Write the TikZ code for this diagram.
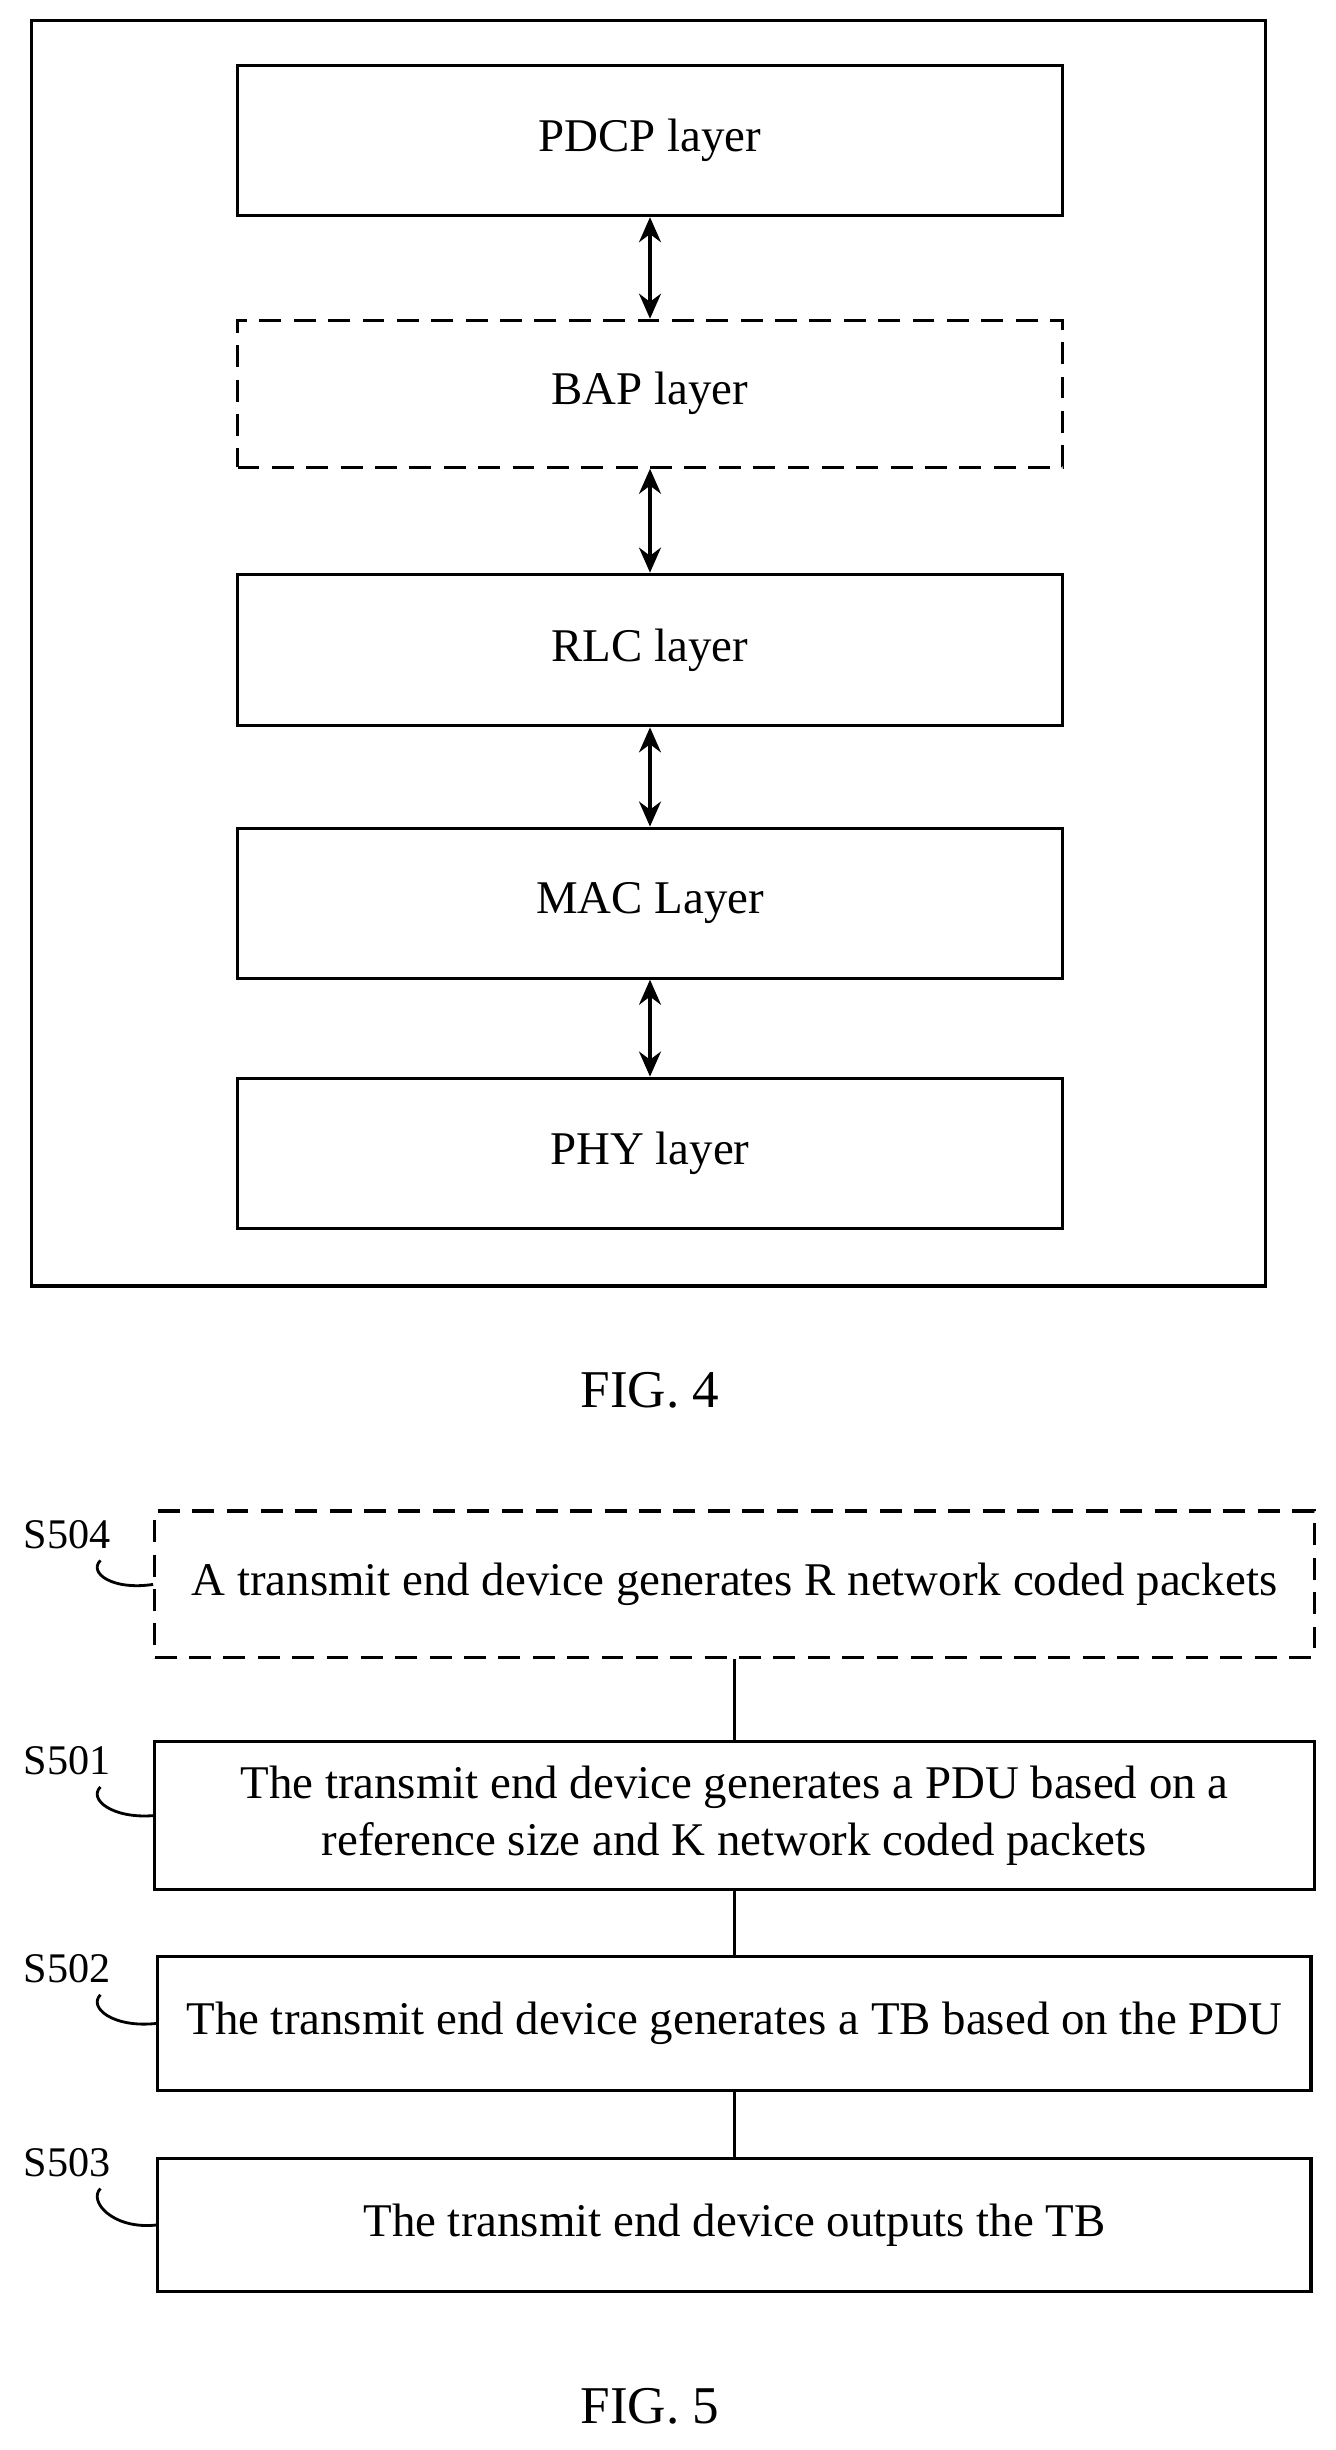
\documentclass[tikz,border=0pt]{standalone}
\usepackage{fontspec}
\setmainfont{Liberation Serif}
\usetikzlibrary{arrows.meta}
\begin{document}
\begin{tikzpicture}[x=1pt,y=-1pt,
 box/.style={draw,line width=2pt,minimum height=0pt,font=\fontsize{30}{36}\selectfont},
 dbox/.style={box,dash pattern=on 14pt off 8pt},
 dar/.style={line width=2.4pt,{Stealth[length=16pt,width=14pt]}-{Stealth[length=16pt,width=14pt]}},
 ln/.style={line width=1.8pt},
 lab/.style={font=\fontsize{27}{30}\selectfont,anchor=center},
 fig/.style={font=\fontsize{34}{38}\selectfont}]
\useasboundingbox (0,0) rectangle (855,1568);
\draw[line width=2pt] (20,13) rectangle (810,823);
\node[box,minimum width=528pt,minimum height=96pt] (pdcp) at (416,90) {PDCP layer};
\node[dbox,minimum width=528pt,minimum height=94pt] (bap) at (416,252) {BAP layer};
\node[box,minimum width=528pt,minimum height=97pt] (rlc) at (416,416) {RLC layer};
\node[box,minimum width=528pt,minimum height=96pt] (mac) at (416,578) {MAC Layer};
\node[box,minimum width=528pt,minimum height=96pt] (phy) at (416,738) {PHY layer};
\draw[dar] (pdcp) -- (bap);
\draw[dar] (bap) -- (rlc);
\draw[dar] (rlc) -- (mac);
\draw[dar] (mac) -- (phy);
\node[fig] (f4) at (416,890) {FIG. 4};
\node[dbox,minimum width=742pt,minimum height=94pt] (s504) at (470,1014) {A transmit end device generates R network coded packets};
\node[box,minimum width=742pt,minimum height=95pt,align=center] (s501) at (470,1162) {The transmit end device generates a PDU based on a\\reference size and K network coded packets};
\node[box,minimum width=738pt,minimum height=86pt] (s502) at (470,1295) {The transmit end device generates a TB based on the PDU};
\node[box,minimum width=738pt,minimum height=85pt] (s503) at (470,1424) {The transmit end device outputs the TB};
\draw[ln] (s504) -- (s501);
\draw[ln] (s501) -- (s502);
\draw[ln] (s502) -- (s503);
\node[lab] (l504) at (43,982) {S504};
\node[lab] (l501) at (43,1127) {S501};
\node[lab] (l502) at (43,1260) {S502};
\node[lab] (l503) at (43,1384) {S503};
\draw[ln] (l504.south east) ++(-10,4) coordinate (a) .. controls +(-8,8) and (72,1018) .. (s504.west);
\draw[ln] (l501.south east) ++(-10,4) coordinate (a) .. controls +(-8,8) and (72,1164) .. (s501.west);
\draw[ln] (l502.south east) ++(-10,4) coordinate (a) .. controls +(-8,8) and (72,1298) .. (s502.west);
\draw[ln] (l503.south east) ++(-10,4) coordinate (a) .. controls +(-8,8) and (72,1427) .. (s503.west);
\node[fig] (f5) at (416,1540) {FIG. 5};
\end{tikzpicture}
\end{document}
